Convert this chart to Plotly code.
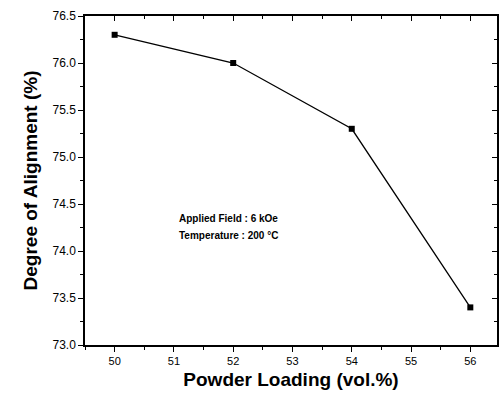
import plotly.graph_objects as go

loading = [50, 52, 54, 56]
alignment = [76.3, 76.0, 75.3, 73.4]
y_ticks = [73.0, 73.5, 74.0, 74.5, 75.0, 75.5, 76.0, 76.5]
y_labels = ["73.0", "73.5", "74.0", "74.5", "75.0", "75.5", "76.0", "76.5"]
x_ticks = [50, 51, 52, 53, 54, 55, 56]

xr = [49.5, 56.45]
yr = [73.0, 76.5]
font = "Arial"

fig = go.Figure()
fig.add_trace(go.Scatter(x=loading, y=alignment, mode="lines+markers",
                         line=dict(color="black", width=1.3),
                         marker=dict(symbol="square", size=6, color="black"),
                         showlegend=False))
# invisible trace to activate mirrored axes
fig.add_trace(go.Scatter(x=loading, y=alignment, xaxis="x2", yaxis="y2",
                         mode="markers", marker=dict(opacity=0), showlegend=False,
                         hoverinfo="skip"))

common = dict(showgrid=False, zeroline=False, showline=True, linecolor="black", linewidth=1.5,
              tickcolor="black", ticklen=5, tickwidth=1.3)
fig.update_layout(
    width=504, height=394, margin=dict(l=85, r=7, t=16, b=49),
    plot_bgcolor="white", paper_bgcolor="white",
    font=dict(family=font),
    xaxis=dict(range=xr, tickvals=x_ticks, ticks="outside",
               minor=dict(dtick=0.5, ticks="outside", ticklen=3, tickcolor="black"),
               title=dict(text="<b>Powder Loading (vol.%)</b>", font=dict(family=font, size=19, color="black"), standoff=7),
               tickfont=dict(family=font, size=11, color="black"), **common),
    yaxis=dict(range=yr, tickvals=y_ticks, ticktext=y_labels, ticks="outside",
               minor=dict(dtick=0.25, ticks="outside", ticklen=3, tickcolor="black"),
               title=dict(text="<b>Degree of Alignment (%)</b>", font=dict(family=font, size=19, color="black"), standoff=10),
               tickfont=dict(family=font, size=12, color="black"), **common),
    xaxis2=dict(range=xr, overlaying="x", side="top", tickvals=x_ticks, ticks="inside",
                showticklabels=False,
                minor=dict(dtick=0.5, ticks="inside", ticklen=3, tickcolor="black"), **common),
    yaxis2=dict(range=yr, overlaying="y", side="right", tickvals=y_ticks, ticks="inside",
                showticklabels=False,
                minor=dict(dtick=0.25, ticks="inside", ticklen=3, tickcolor="black"), **common),
)
fig.add_annotation(xref="x", yref="y", x=51.05, y=74.35, xanchor="left", yanchor="middle",
                   text="<b>Applied Field : 6 kOe</b>", showarrow=False,
                   font=dict(family=font, size=10, color="black"))
fig.add_annotation(xref="x", yref="y", x=51.05, y=74.16, xanchor="left", yanchor="middle",
                   text="<b>Temperature : 200 °C</b>", showarrow=False,
                   font=dict(family=font, size=10, color="black"))
fig.write_html("out.html")
